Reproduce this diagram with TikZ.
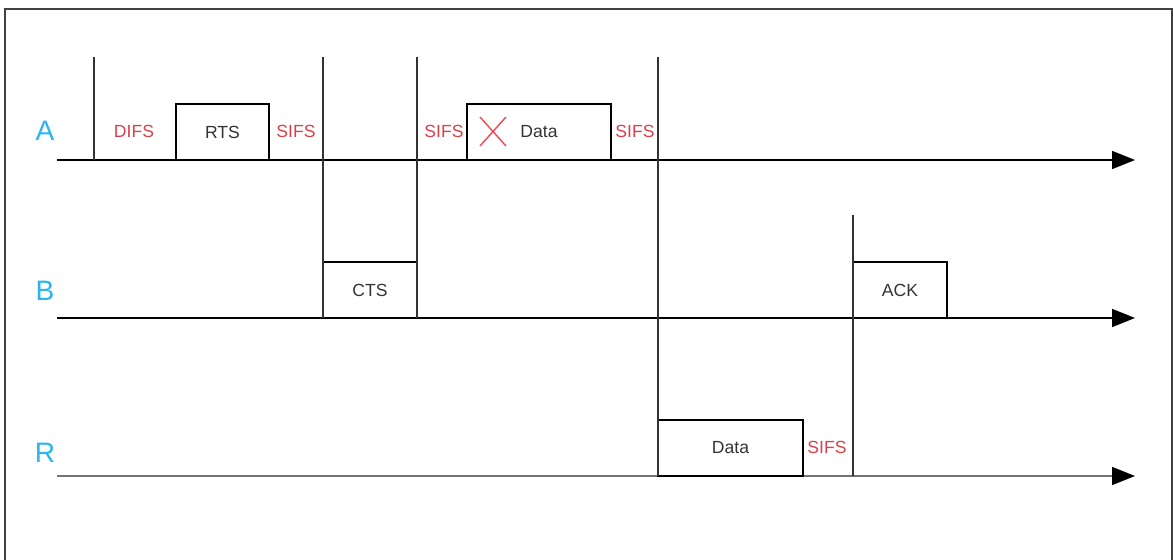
\documentclass[tikz,border=0pt]{standalone}
\usepackage{fontspec}
\setmainfont{Liberation Sans}
\usepackage{xcolor}
\usetikzlibrary{arrows.meta}
\definecolor{staname}{HTML}{2BB5EE}
\definecolor{ifsred}{HTML}{D9404A}
\definecolor{crossred}{HTML}{F0484E}
\definecolor{boxtext}{HTML}{333333}

\begin{document}
\begin{tikzpicture}[x=0.02cm,y=-0.02cm,
  timeline/.style={line width=1pt,-{Triangle[length=4.6mm,width=3.6mm,color=black]}},
  marker/.style={line width=0.8pt,draw=black!80},
  frame/.style={draw,line width=1pt,minimum height=1.12cm,inner sep=0pt,outer sep=0pt,anchor=south west,font=\normalsize,text=boxtext},
  sta/.style={font=\fontsize{16}{16}\selectfont,text=staname},
  ifs/.style={font=\normalsize,text=ifsred},
]
\def\ya{160}\def\yb{318}\def\yr{476}\def\ytop{57}
\useasboundingbox (0,0) rectangle (1173,560);
% outer border
\draw[line width=0.6pt,black!75] (5,560) -- (5,9) -- (1172,9) -- (1172,560);
% timelines
\coordinate (a0) at (57,\ya); \coordinate (a1) at (1135,\ya);
\coordinate (b0) at (57,\yb); \coordinate (b1) at (1135,\yb);
\coordinate (r0) at (57,\yr); \coordinate (r1) at (1135,\yr);
\draw[timeline] (a0) -- (a1);
\draw[timeline] (b0) -- (b1);
\draw[timeline,draw=black!55] (r0) -- (r1);
% station names
\node[sta] (nameA) at (45,131) {A};
\node[sta] (nameB) at (45,291) {B};
\node[sta] (nameR) at (45,453) {R};
% frames
\node[frame,minimum width=1.86cm] (rts) at (176,\ya) {RTS};
\node[frame,minimum width=2.88cm] (dataA) at (467,\ya) {Data};
\node[frame,minimum width=1.88cm] (cts) at (323,\yb) {CTS};
\node[frame,minimum width=1.88cm] (ack) at (853,\yb) {ACK};
\node[frame,minimum width=2.9cm] (dataR) at (658,\yr) {Data};
% collision mark
\coordinate (xa) at (480,117); \coordinate (xb) at (506,146);
\coordinate (xc) at (506,117); \coordinate (xd) at (480,146);
\draw[crossred,line width=0.8pt] (xa) -- (xb) (xc) -- (xd);
% vertical markers
\coordinate (m1t) at (94,\ytop);  \coordinate (m1b) at (94,\ya);
\coordinate (m2t) at (323,\ytop); \coordinate (m2b) at (323,\yb);
\coordinate (m3t) at (417,\ytop); \coordinate (m3b) at (417,\yb);
\coordinate (m4t) at (658,\ytop); \coordinate (m4b) at (658,\yr);
\coordinate (m5t) at (853,215);   \coordinate (m5b) at (853,\yr);
\draw[marker] (m1t) -- (m1b);
\draw[marker] (m2t) -- (m2b);
\draw[marker] (m3t) -- (m3b);
\draw[marker] (m4t) -- (m4b);
\draw[marker] (m5t) -- (m5b);
% interframe spaces
\node[ifs] (difs) at (134,131) {DIFS};
\node[ifs] (sifs1) at (296,131) {SIFS};
\node[ifs] (sifs2) at (444,131) {SIFS};
\node[ifs] (sifs3) at (635,131) {SIFS};
\node[ifs] (sifs4) at (827,447) {SIFS};
\end{tikzpicture}
\end{document}
